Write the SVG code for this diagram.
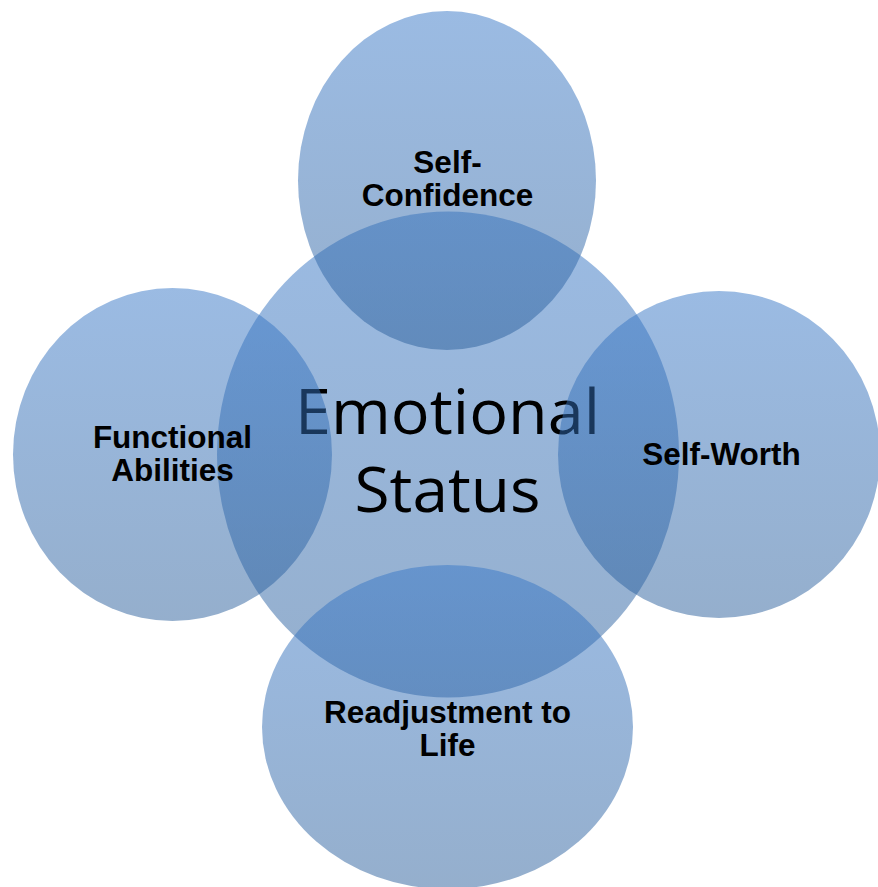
<svg xmlns="http://www.w3.org/2000/svg" width="878" height="887" viewBox="0 0 878 887">
  <defs>
    <!-- vertical shade shared by every bubble; drawn half-transparent so overlaps darken -->
    <linearGradient id="blueFill" x1="0" y1="0" x2="0" y2="1">
      <stop offset="0" stop-color="#3777C7"/>
      <stop offset="1" stop-color="#2B5F9B"/>
    </linearGradient>
  </defs>
  <style>
    .bubble { fill: url(#blueFill); fill-opacity: 0.5; stroke: none; }
    .label { font-family: "Liberation Sans", Arial, sans-serif; font-weight: bold; font-size: 31.5px; fill: #000000; text-anchor: middle; }
    .hub { font-family: "Open Sans", "Noto Sans", sans-serif; font-size: 62px; fill: #000000; text-anchor: middle; }
  </style>

  <rect width="878" height="887" fill="#ffffff"/>

  <!-- central bubble -->
  <g id="emotional-status">
    <ellipse class="bubble" cx="448" cy="454.5" rx="231" ry="243"/>
    <text class="hub" x="447.5" y="434" textLength="305" lengthAdjust="spacingAndGlyphs">Emotional</text>
    <text class="hub" x="447.5" y="512" textLength="186" lengthAdjust="spacingAndGlyphs">Status</text>
  </g>

  <!-- satellite bubbles -->
  <g id="self-confidence">
    <ellipse class="bubble" cx="447" cy="180.5" rx="149" ry="169.5"/>
    <text class="label" x="447.5" y="172.7">Self-</text>
    <text class="label" x="447.5" y="206">Confidence</text>
  </g>

  <g id="self-worth">
    <ellipse class="bubble" cx="719" cy="454.5" rx="161" ry="163.5"/>
    <text class="label" x="721.5" y="465">Self-Worth</text>
  </g>

  <g id="readjustment-to-life">
    <ellipse class="bubble" cx="447.5" cy="727" rx="185.5" ry="162"/>
    <text class="label" x="447.5" y="722.7">Readjustment to</text>
    <text class="label" x="447.5" y="756">Life</text>
  </g>

  <g id="functional-abilities">
    <ellipse class="bubble" cx="172.5" cy="454.5" rx="159.5" ry="166.5"/>
    <text class="label" x="172.5" y="447.7">Functional</text>
    <text class="label" x="172.5" y="480.7">Abilities</text>
  </g>
</svg>
